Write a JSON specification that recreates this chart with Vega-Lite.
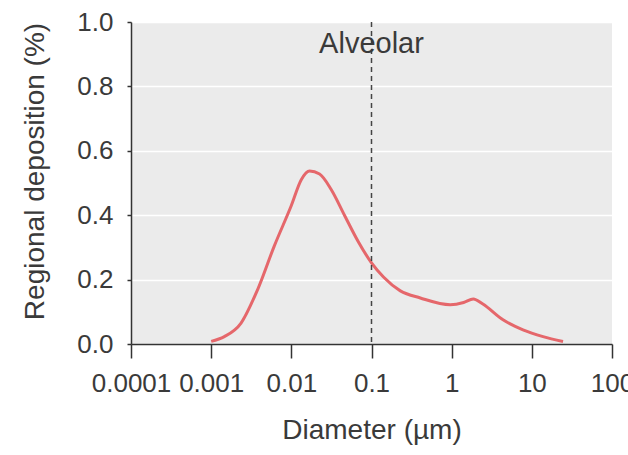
{
  "$schema": "https://vega.github.io/schema/vega-lite/v6.json",
  "width": 481,
  "height": 322,
  "autosize": {"type": "none"},
  "padding": {"left": 131, "top": 22, "right": 16, "bottom": 111},
  "background": "white",
  "config": {
    "view": {"fill": "#ebebeb", "stroke": null},
    "font": "Liberation Sans",
    "axis": {
      "labelFont": "Liberation Sans",
      "titleFont": "Liberation Sans",
      "labelColor": "#3a3a3a",
      "titleColor": "#3a3a3a",
      "labelFontSize": 26,
      "titleFontSize": 28,
      "titleFontWeight": "normal",
      "domainColor": "#333333",
      "domainWidth": 1.5,
      "tickColor": "#333333",
      "tickWidth": 1.5
    }
  },
  "datasets": {
    "curve": [
      {"d": 0.001, "dep": 0.008},
      {"d": 0.00146, "dep": 0.023},
      {"d": 0.00236, "dep": 0.065},
      {"d": 0.0038, "dep": 0.169},
      {"d": 0.00612, "dep": 0.304},
      {"d": 0.01, "dep": 0.43},
      {"d": 0.0133, "dep": 0.51},
      {"d": 0.0169, "dep": 0.537},
      {"d": 0.0225, "dep": 0.528},
      {"d": 0.0314, "dep": 0.48},
      {"d": 0.046, "dep": 0.40},
      {"d": 0.0676, "dep": 0.32},
      {"d": 0.1, "dep": 0.252},
      {"d": 0.141, "dep": 0.208},
      {"d": 0.229, "dep": 0.165},
      {"d": 0.407, "dep": 0.143},
      {"d": 0.96, "dep": 0.122},
      {"d": 1.41, "dep": 0.129},
      {"d": 1.86, "dep": 0.14},
      {"d": 2.45, "dep": 0.124},
      {"d": 4.37, "dep": 0.075},
      {"d": 7.76, "dep": 0.044},
      {"d": 13.8, "dep": 0.023},
      {"d": 24.5, "dep": 0.008}
    ],
    "marker": [{"d": 0.1, "label": "Alveolar", "ly": 0.932}]
  },
  "layer": [
    {
      "data": {"name": "curve"},
      "mark": {"type": "line", "color": "#e5676b", "strokeWidth": 3, "interpolate": "monotone"},
      "encoding": {
        "x": {
          "field": "d",
          "type": "quantitative",
          "scale": {"type": "log", "domain": [0.0001, 100], "nice": false},
          "axis": {
            "title": "Diameter (\u00b5m)",
            "values": [0.0001, 0.001, 0.01, 0.1, 1, 10, 100],
            "format": "~g",
            "grid": false,
            "tickSize": 14,
            "labelPadding": 12,
            "labelFlush": false,
            "labelOverlap": false,
            "titlePadding": 20
          }
        },
        "y": {
          "field": "dep",
          "type": "quantitative",
          "scale": {"domain": [0, 1], "nice": false},
          "axis": {
            "title": "Regional deposition (%)",
            "values": [0, 0.2, 0.4, 0.6, 0.8, 1.0],
            "format": ".1f",
            "grid": true,
            "gridColor": "white",
            "gridWidth": 1.5,
            "tickSize": 4,
            "labelPadding": 14,
            "titlePadding": 27,
            "titleY": 149
          }
        }
      }
    },
    {
      "data": {"name": "marker"},
      "mark": {"type": "rule", "color": "#444444", "strokeWidth": 1.5, "strokeDash": [5, 4]},
      "encoding": {
        "x": {"field": "d", "type": "quantitative"}
      }
    },
    {
      "data": {"name": "marker"},
      "mark": {"type": "text", "fontSize": 29, "color": "#3a3a3a", "font": "Liberation Sans"},
      "encoding": {
        "x": {"field": "d", "type": "quantitative"},
        "y": {"field": "ly", "type": "quantitative"},
        "text": {"field": "label"}
      }
    }
  ]
}
